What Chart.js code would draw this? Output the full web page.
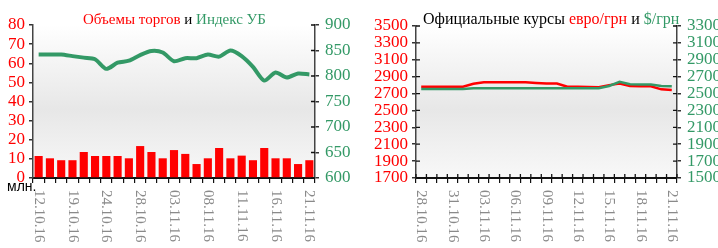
<!DOCTYPE html>
<html>
<head>
<meta charset="utf-8">
<script src="https://cdn.jsdelivr.net/npm/chart.js@4.4.1/dist/chart.umd.min.js"></script>
<style>
  body { margin: 0; background: #fff; }
  #tradeChart { position: absolute; left: 0; top: 0; }
  #rateChart { position: absolute; left: 360px; top: 0; }
</style>
</head>
<body>
<canvas id="tradeChart" width="360" height="248"></canvas>
<canvas id="rateChart" width="358" height="248"></canvas>
<script>
// левый график: объемы торгов (млн.) и индекс УБ
const tradeDates = ['12.10.16', '13.10.16', '18.10.16', '19.10.16', '20.10.16', '21.10.16', '24.10.16',
  '25.10.16', '26.10.16', '28.10.16', '31.10.16', '01.11.16', '03.11.16', '04.11.16', '07.11.16',
  '08.11.16', '09.11.16', '10.11.16', '11.11.16', '14.11.16', '15.11.16', '16.11.16', '17.11.16',
  '18.11.16', '21.11.16'];
const volumes = [11.5, 10.3, 9.3, 9.3, 13.6, 11.5, 11.5, 11.5, 10.3, 16.7, 13.6, 10.3, 14.6,
  12.6, 7.3, 10.3, 15.7, 10.3, 11.7, 9.3, 15.7, 10.3, 10.3, 7.3, 9.3];
const ubIndex = [842, 842, 842, 839, 836, 833, 814, 826, 830, 841, 849, 846, 829,
  835, 835, 842, 838, 850, 839, 818, 791, 807, 797, 805, 803];
const volumeTicks = [0, 80, 10];
const indexTicks = [600, 900, 50];

// правый график: официальные курсы (за 100 ед.)
const rateDates = ['28.10.16', '29.10.16', '30.10.16', '31.10.16', '01.11.16', '02.11.16', '03.11.16',
  '04.11.16', '05.11.16', '06.11.16', '07.11.16', '08.11.16', '09.11.16', '10.11.16', '11.11.16',
  '12.11.16', '13.11.16', '14.11.16', '15.11.16', '16.11.16', '17.11.16', '18.11.16', '19.11.16',
  '20.11.16', '21.11.16'];
const eurRate = [2782, 2782, 2782, 2782, 2782, 2815, 2833, 2833, 2833, 2833, 2833, 2826, 2818,
  2818, 2780, 2780, 2778, 2775, 2800, 2818, 2790, 2786, 2786, 2750, 2743];
const usdRate = [2555, 2555, 2555, 2555, 2555, 2562, 2562, 2562, 2562, 2562, 2562, 2562, 2562,
  2562, 2562, 2562, 2562, 2562, 2590, 2640, 2610, 2606, 2606, 2590, 2586];
const eurTicks = [1700, 3500, 200];
const usdTicks = [1500, 3300, 200];

const RED = '#ff0000';
const GREEN = '#339966';
const SERIF = "'Liberation Serif', 'DejaVu Serif', serif";

const plotBg = {
  id: 'plotBg',
  beforeDraw(chart) {
    const a = chart.chartArea, c = chart.ctx;
    const g = c.createLinearGradient(0, a.top, 0, a.bottom);
    g.addColorStop(0, '#ffffff');
    g.addColorStop(0.55, '#e7e7e7');
    g.addColorStop(1, '#f8f8f8');
    c.save();
    c.fillStyle = g;
    c.fillRect(a.left, a.top, a.right - a.left, a.bottom - a.top);
    c.restore();
  }
};

// засечки внутрь области графика (получается крестик)
function innerTicks(ids, withX) {
  return {
    id: 'innerTicks',
    afterDatasetsDraw(chart) {
      const c = chart.ctx, a = chart.chartArea;
      c.save();
      c.strokeStyle = '#111';
      c.lineWidth = 1.3;
      c.beginPath();
      ids.forEach(id => {
        const s = chart.scales[id];
        const x0 = s.position === 'left' ? a.left : a.right;
        const dir = s.position === 'left' ? 1 : -1;
        s.ticks.forEach(t => {
          const y = s.getPixelForValue(t.value);
          c.moveTo(x0, y);
          c.lineTo(x0 + dir * 4, y);
        });
      });
      if (withX) {
        const xs = chart.scales.x, n = xs.ticks.length;
        for (let i = 0; i <= n; i++) {
          const x = a.left + i * (a.right - a.left) / n;
          c.moveTo(x, a.bottom);
          c.lineTo(x, a.bottom - 4);
        }
      }
      c.stroke();
      c.restore();
    }
  };
}

// подписи дат повернуты по часовой стрелке
function dateLabels(labels) {
  return {
    id: 'dateLabels',
    afterDraw(chart) {
      const xs = chart.scales.x, c = chart.ctx;
      c.save();
      c.fillStyle = '#8a8a8a';
      c.font = '15px ' + SERIF;
      c.textAlign = 'left';
      c.textBaseline = 'middle';
      labels.forEach((l, i) => {
        if (i % 3) return;
        c.save();
        c.translate(xs.getPixelForValue(i), xs.top + 12);
        c.rotate(Math.PI / 2);
        c.fillText(l, 0, 0);
        c.restore();
      });
      c.restore();
    }
  };
}

function titleParts(x, y, size, parts) {
  return {
    id: 'titleParts',
    afterDraw(chart) {
      const c = chart.ctx;
      c.save();
      c.font = size + 'px ' + SERIF;
      c.textBaseline = 'alphabetic';
      let cx = x;
      parts.forEach(([t, col]) => {
        c.fillStyle = col;
        c.fillText(t, cx, y);
        cx += c.measureText(t).width;
      });
      c.restore();
    }
  };
}

const unitLabel = {
  id: 'unitLabel',
  afterDraw(chart) {
    const c = chart.ctx;
    c.save();
    c.fillStyle = '#000';
    c.font = '14px "Liberation Sans", Arial, sans-serif';
    c.fillText('млн.', 7, 191);
    c.restore();
  }
};

function yAxis(pos, range, color, width, pad) {
  return {
    position: pos,
    min: range[0],
    max: range[1],
    ticks: {
      stepSize: range[2], autoSkip: false, color: color, padding: pad,
      font: { family: SERIF, size: 17 },
      callback: v => String(v)
    },
    grid: { drawOnChartArea: false, tickLength: 4, color: '#333', lineWidth: 1.5 },
    border: { color: '#444', width: 1.5 },
    afterFit(s) { s.width = width; }
  };
}

const xAxis = {
  offset: true,
  grid: { offset: true, drawOnChartArea: false, tickLength: 5, color: '#111', lineWidth: 1.2 },
  border: { color: '#111', width: 2 },
  ticks: { display: false },
  afterFit(s) { s.height = 70; }
};

new Chart(document.getElementById('tradeChart'), {
  type: 'bar',
  data: {
    labels: tradeDates,
    datasets: [{
      type: 'line',
      data: ubIndex,
      yAxisID: 'y1',
      borderColor: GREEN,
      borderWidth: 4,
      pointRadius: 0,
      tension: 0.25
    }, {
      data: volumes,
      yAxisID: 'y',
      backgroundColor: RED,
      barPercentage: 0.72,
      categoryPercentage: 1
    }]
  },
  options: {
    responsive: false,
    animation: false,
    layout: { padding: { top: 25 } },
    plugins: { legend: { display: false }, tooltip: { enabled: false } },
    scales: {
      x: xAxis,
      y: yAxis('left', volumeTicks, RED, 33, 4),
      y1: yAxis('right', indexTicks, GREEN, 45, 6)
    }
  },
  plugins: [plotBg, innerTicks(['y1'], false), dateLabels(tradeDates), unitLabel,
    titleParts(83, 24, 15, [['Объемы торгов', RED], [' и ', '#000'], ['Индекс УБ', GREEN]])]
});

new Chart(document.getElementById('rateChart'), {
  type: 'line',
  data: {
    labels: rateDates,
    datasets: [{
      data: usdRate,
      yAxisID: 'y1',
      borderColor: GREEN,
      borderWidth: 2.5,
      pointRadius: 0
    }, {
      data: eurRate,
      yAxisID: 'y',
      borderColor: RED,
      borderWidth: 2.5,
      pointRadius: 0
    }]
  },
  options: {
    responsive: false,
    animation: false,
    layout: { padding: { top: 26 } },
    plugins: { legend: { display: false }, tooltip: { enabled: false } },
    scales: {
      x: xAxis,
      y: yAxis('left', eurTicks, RED, 56, 4),
      y1: yAxis('right', usdTicks, GREEN, 41, 6)
    }
  },
  plugins: [plotBg, innerTicks(['y', 'y1'], true), dateLabels(rateDates),
    titleParts(63, 24, 16, [['Официальные курсы ', '#000'], ['евро/грн', RED], [' и ', '#000'], ['$/грн', GREEN]])]
});
</script>
</body>
</html>
